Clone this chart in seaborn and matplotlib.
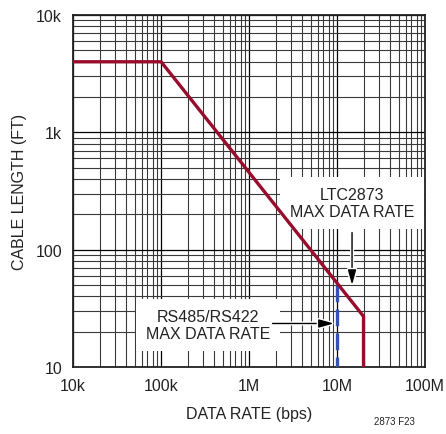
import matplotlib
matplotlib.use("Agg")
import matplotlib.pyplot as plt
import matplotlib.patheffects as pe
from matplotlib.ticker import LogLocator, FixedLocator, NullFormatter
import pandas as pd
import seaborn as sns

# data
ltc_rate = [1e4, 1e5, 2e7, 2e7]
ltc_length = [4000, 4000, 27, 10]
rs_rate = [1e7, 1e7]
rs_length = [50, 10]
x_ticks = [1e4, 1e5, 1e6, 1e7, 1e8]
x_labels = ["10k", "100k", "1M", "10M", "100M"]
y_ticks = [10, 100, 1000, 10000]
y_labels = ["10", "100", "1k", "10k"]

sns.set_style("white")
plt.rcParams['font.family'] = ['Liberation Sans', 'DejaVu Sans']

ltc = pd.DataFrame({"rate": ltc_rate, "length": ltc_length})
rs = pd.DataFrame({"rate": rs_rate, "length": rs_length})

fig = plt.figure(figsize=(4.46, 4.35), dpi=100)
ax = fig.add_axes([0.164, 0.154, 0.789, 0.809])
ax.set_xscale("log")
ax.set_yscale("log")
ax.set_xlim(1e4, 1e8)
ax.set_ylim(10, 1e4)

# grid
ax.xaxis.set_minor_locator(LogLocator(base=10, subs=range(2, 10)))
ax.yaxis.set_minor_locator(LogLocator(base=10, subs=range(2, 10)))
ax.xaxis.set_minor_formatter(NullFormatter())
ax.yaxis.set_minor_formatter(NullFormatter())
ax.grid(True, which="major", color="black", lw=0.9)
ax.grid(True, which="minor", color="#3a3a3a", lw=0.8)
ax.set_axisbelow(True)

sns.lineplot(data=ltc, x="rate", y="length", sort=False, estimator=None, ax=ax,
             color="#980c2c", lw=2.4, zorder=8)
sns.lineplot(data=rs, x="rate", y="length", sort=False, estimator=None, ax=ax,
             color="#3352b5", lw=2.4, zorder=4, linestyle=(0, (5, 2.2)))

ax.xaxis.set_major_locator(FixedLocator(x_ticks))
ax.yaxis.set_major_locator(FixedLocator(y_ticks))
ax.set_xticklabels(x_labels)
ax.set_yticklabels(y_labels)
ax.tick_params(axis="x", which="both", length=0, labelsize=11.5, colors="#222222", pad=8)
ax.tick_params(axis="y", which="both", length=0, labelsize=11.5, colors="#222222", pad=8)
for s in ax.spines.values():
    s.set_color("#222222")
    s.set_linewidth(1.3)

ax.set_xlabel("DATA RATE (bps)", fontsize=11.5, color="#222222", labelpad=9)
ax.set_ylabel("CABLE LENGTH (FT)", fontsize=11.5, color="#222222", labelpad=6)

# annotations
box = dict(facecolor="white", edgecolor="none", pad=7)
ax.text(1.48e7, 250, "LTC2873\nMAX DATA RATE", ha="center", va="center",
        fontsize=11.5, color="#222222", linespacing=1.2, bbox=box, zorder=6)
ax.text(3.42e5, 22.8, "RS485/RS422\nMAX DATA RATE", ha="center", va="center",
        fontsize=11.5, color="#222222", linespacing=1.2, bbox=box, zorder=6)

halo = [pe.withStroke(linewidth=3, foreground="white")]
arr = dict(arrowstyle="-|>,head_length=0.9,head_width=0.25", color="black",
           lw=1.0, shrinkA=0, shrinkB=0, path_effects=halo)
ax.annotate("", xy=(1.48e7, 50), xytext=(1.48e7, 140), arrowprops=arr, zorder=7)
ax.annotate("", xy=(9.2e6, 23.5), xytext=(1.85e6, 23.5), arrowprops=arr, zorder=7)

fig.text(0.93, 0.03, "2873 F23", ha="right", va="center", fontsize=7,
         color="#222222")

fig.savefig("out.png", dpi=100)
